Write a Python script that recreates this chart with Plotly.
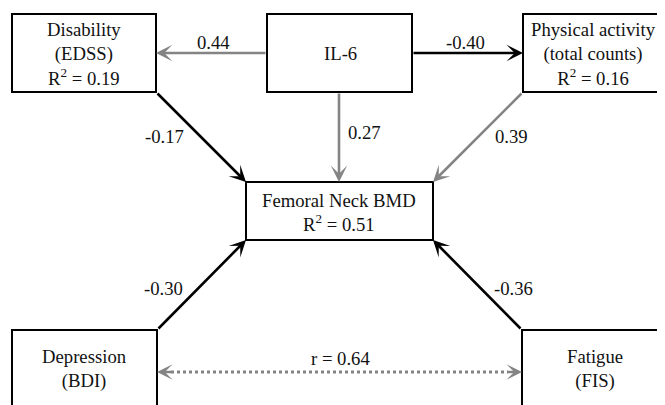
import plotly.graph_objects as go

# ---------------- data ----------------
node_names = ["Disability", "IL-6", "Physical activity", "BMD", "Depression", "Fatigue"]
node_texts = [
    "Disability<br>(EDSS)<br>R<sup>2</sup> = 0.19",
    "IL-6",
    "Physical activity<br>(total counts)<br>R<sup>2</sup> = 0.16",
    "Femoral Neck BMD<br>R<sup>2</sup> = 0.51",
    "Depression<br>(BDI)",
    "Fatigue<br>(FIS)",
]
path_from = ["IL-6", "IL-6", "IL-6", "Disability", "Physical activity", "Depression", "Fatigue"]
path_to = ["Disability", "Physical activity", "BMD", "BMD", "BMD", "BMD", "BMD"]
path_coef = [0.44, -0.40, 0.27, -0.17, 0.39, -0.30, -0.36]
corr_from = "Depression"
corr_to = "Fatigue"
corr_r = 0.64

# ---------------- layout (pixel canvas of the window, y downward) ----------------
W, H = 665, 405
PAGE_OFFSET = 8  # default body margin of the html page
boxes = {  # x0, x1, y0, y1
    "Disability": (12, 156, 14, 92),
    "IL-6": (267, 412, 14, 92),
    "Physical activity": (523, 662, 14, 92),
    "BMD": (246, 433, 182, 240),
    "Depression": (12, 157, 330, 430),
    "Fatigue": (522, 690, 330, 430),
}
text_centers = {
    "Disability": (84, 54),
    "IL-6": (340, 53),
    "Physical activity": (593, 54),
    "BMD": (339, 212),
    "Depression": (84, 369),
    "Fatigue": (595, 369),
}
# anchor sides (from-side, to-side) for each path
path_sides = [("l", "r"), ("r", "l"), ("b339", "t339"), ("br", "tl"), ("bl", "tr"), ("tr", "bl"), ("tl", "br")]
label_pos = [(213, 42), (465, 42), (364, 132), (164, 136), (511, 136), (163, 288), (513, 288)]
corr_y = 372
corr_label_pos = (340, 358)

GRAY = "#848484"
BLACK = "#000000"
FONT = dict(family="Liberation Serif", size=18.7, color="#111111")


def anchor(name, side):
    x0, x1, y0, y1 = boxes[name]
    if side == "l":
        return x0, 53 if y1 < 120 else (y0 + y1) / 2
    if side == "r":
        return x1, 53 if y1 < 120 else (y0 + y1) / 2
    if side.startswith("b") and side[1:].isdigit():
        return float(side[1:]), y1
    if side.startswith("t") and side[1:].isdigit():
        return float(side[1:]), y0
    return {"tl": (x0, y0), "tr": (x1, y0), "bl": (x0, y1), "br": (x1, y1)}[side]


fig = go.Figure()
fig.add_trace(go.Scatter(x=[PAGE_OFFSET + 1, W], y=[PAGE_OFFSET + 1, H], mode="markers",
                         marker=dict(opacity=0), hoverinfo="skip", showlegend=False))

shapes = []
annotations = []

for name, txt in zip(node_names, node_texts):
    x0, x1, y0, y1 = boxes[name]
    shapes.append(dict(type="rect", xref="x", yref="y", x0=x0, x1=x1, y0=y0, y1=y1,
                       line=dict(color=BLACK, width=2), fillcolor="rgba(0,0,0,0)"))
    cx, cy = text_centers[name]
    annotations.append(dict(x=cx, y=cy, xref="x", yref="y", text=txt, showarrow=False,
                            font=FONT, align="center"))

for f, t, c, (sf, st), (lx, ly) in zip(path_from, path_to, path_coef, path_sides, label_pos):
    ax, ay = anchor(f, sf)
    tx, ty = anchor(t, st)
    col = GRAY if c > 0 else BLACK
    annotations.append(dict(x=tx, y=ty, ax=ax, ay=ay, xref="x", yref="y", axref="x", ayref="y",
                            text="", showarrow=True, arrowhead=3, arrowsize=1.05,
                            arrowwidth=2.6, arrowcolor=col, standoff=0, startstandoff=0))
    annotations.append(dict(x=lx, y=ly, xref="x", yref="y", text=f"{c:.2f}", showarrow=False,
                            font=FONT))

# correlation (dotted double arrow)
cx0 = boxes[corr_from][1]
cx1 = boxes[corr_to][0]
shapes.append(dict(type="line", xref="x", yref="y", x0=cx0 + 14, x1=cx1 - 14, y0=corr_y, y1=corr_y,
                   line=dict(color=GRAY, width=3, dash="dot")))
for tip, tail in [(cx0, cx0 + 16), (cx1, cx1 - 16)]:
    annotations.append(dict(x=tip, y=corr_y, ax=tail, ay=corr_y, xref="x", yref="y", axref="x", ayref="y",
                            text="", showarrow=True, arrowhead=3, arrowsize=1.0,
                            arrowwidth=2.6, arrowcolor=GRAY, standoff=0))
annotations.append(dict(x=corr_label_pos[0], y=corr_label_pos[1], xref="x", yref="y",
                        text=f"r = {corr_r:.2f}", showarrow=False, font=FONT))

fig.update_layout(
    width=W, height=H,
    margin=dict(l=0, r=0, t=0, b=0),
    paper_bgcolor="white", plot_bgcolor="white",
    xaxis=dict(range=[PAGE_OFFSET, W + PAGE_OFFSET], visible=False, fixedrange=True),
    yaxis=dict(range=[H + PAGE_OFFSET, PAGE_OFFSET], visible=False, fixedrange=True),
    shapes=shapes, annotations=annotations,
    showlegend=False,
)

fig.write_html("out.html")
